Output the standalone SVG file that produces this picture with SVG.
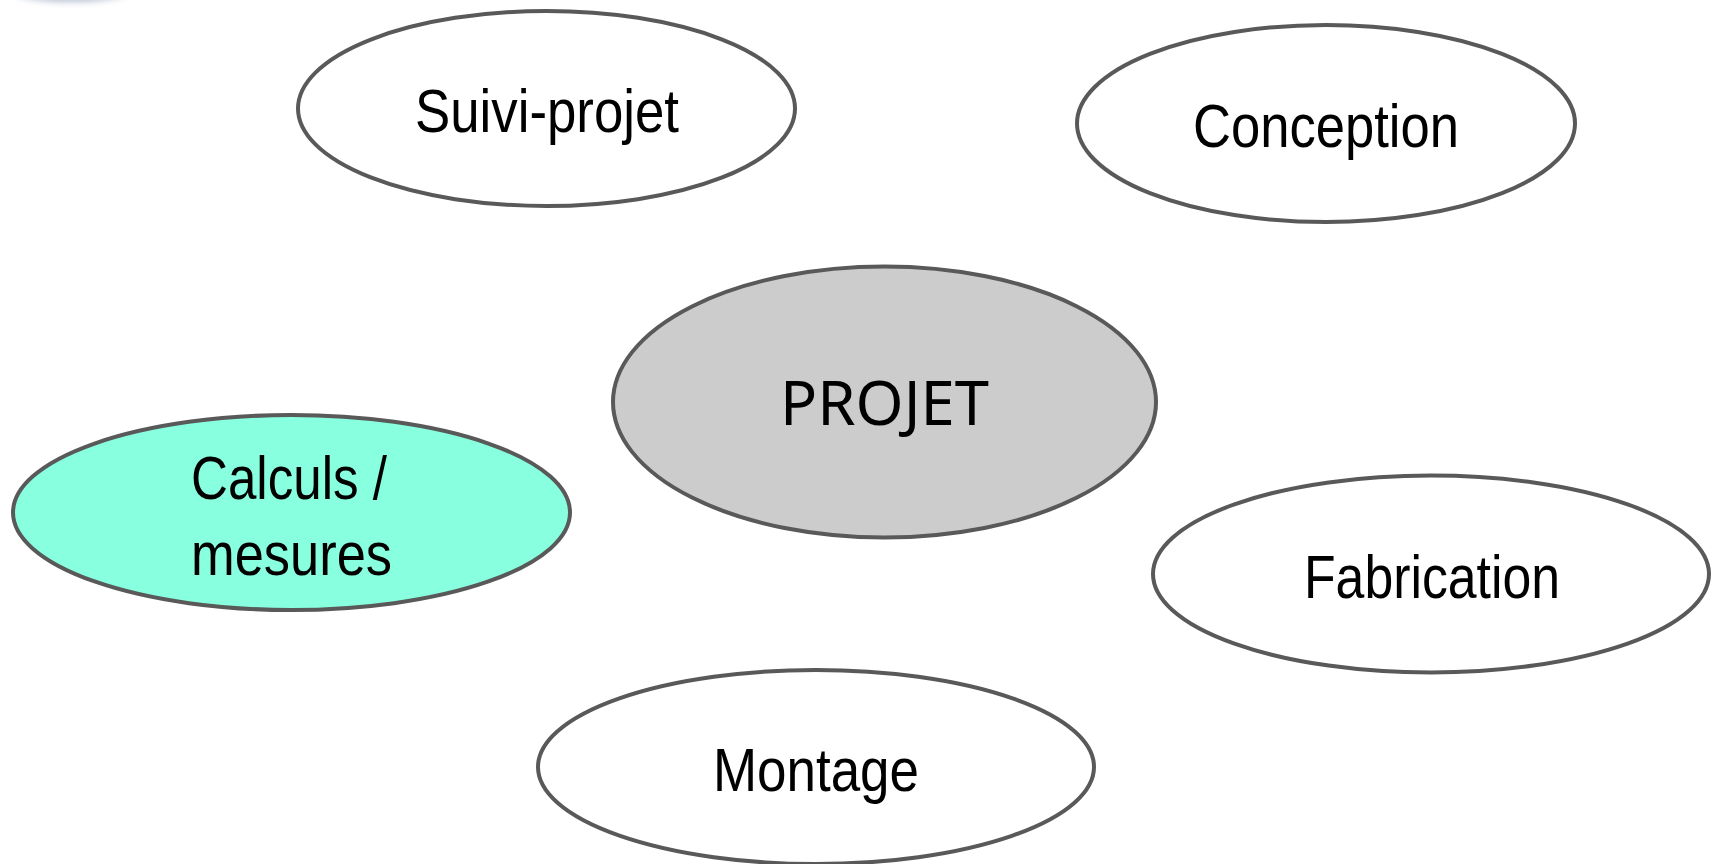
<svg xmlns="http://www.w3.org/2000/svg" width="1717" height="864" viewBox="0 0 1717 864">
  <defs>
    <filter id="blur" x="-50%" y="-50%" width="200%" height="200%">
      <feGaussianBlur stdDeviation="3"/>
    </filter>
  </defs>
  <style>
    .node { stroke: #595959; stroke-width: 4; }
    .plain { fill: #ffffff; }
    .center { fill: #cccccc; }
    .calc { fill: #88ffdf; }
    .lbl { font-family: "Liberation Sans Narrow", "Arial Narrow", "Liberation Sans", Arial, sans-serif; font-size: 61px; fill: #000000; text-anchor: middle; }
    .main { font-family: "Noto Sans", "Open Sans", sans-serif; font-size: 62px; fill: #000000; text-anchor: middle; }
  </style>
  <rect x="0" y="0" width="1717" height="864" fill="#ffffff"/>
  <ellipse cx="71" cy="-9" rx="58" ry="11" fill="#a9b6ca" filter="url(#blur)" opacity="0.8"/>
  <g id="connectors"></g>
  <g id="suivi-projet">
    <ellipse class="node plain" cx="546.5" cy="108.5" rx="248.5" ry="97.5"/>
    <text class="lbl" x="547" y="132" textLength="264" lengthAdjust="spacingAndGlyphs">Suivi-projet</text>
  </g>
  <g id="conception">
    <ellipse class="node plain" cx="1326" cy="123.5" rx="249" ry="98.5"/>
    <text class="lbl" x="1326" y="147" textLength="266" lengthAdjust="spacingAndGlyphs">Conception</text>
  </g>
  <g id="projet">
    <ellipse class="node center" cx="884.5" cy="402" rx="271.5" ry="135.5"/>
    <text class="main" x="884.5" y="425" textLength="209" lengthAdjust="spacingAndGlyphs">PROJET</text>
  </g>
  <g id="calculs-mesures">
    <ellipse class="node calc" cx="291.5" cy="512.5" rx="278.5" ry="97.5"/>
    <text class="lbl" x="289" y="499" textLength="196" lengthAdjust="spacingAndGlyphs">Calculs /</text>
    <text class="lbl" x="291.5" y="575" textLength="201" lengthAdjust="spacingAndGlyphs">mesures</text>
  </g>
  <g id="fabrication">
    <ellipse class="node plain" cx="1431" cy="574" rx="278" ry="98.5"/>
    <text class="lbl" x="1432" y="598" textLength="256" lengthAdjust="spacingAndGlyphs">Fabrication</text>
  </g>
  <g id="montage">
    <ellipse class="node plain" cx="816" cy="767" rx="278" ry="97"/>
    <text class="lbl" x="816" y="791" textLength="206" lengthAdjust="spacingAndGlyphs">Montage</text>
  </g>
</svg>
